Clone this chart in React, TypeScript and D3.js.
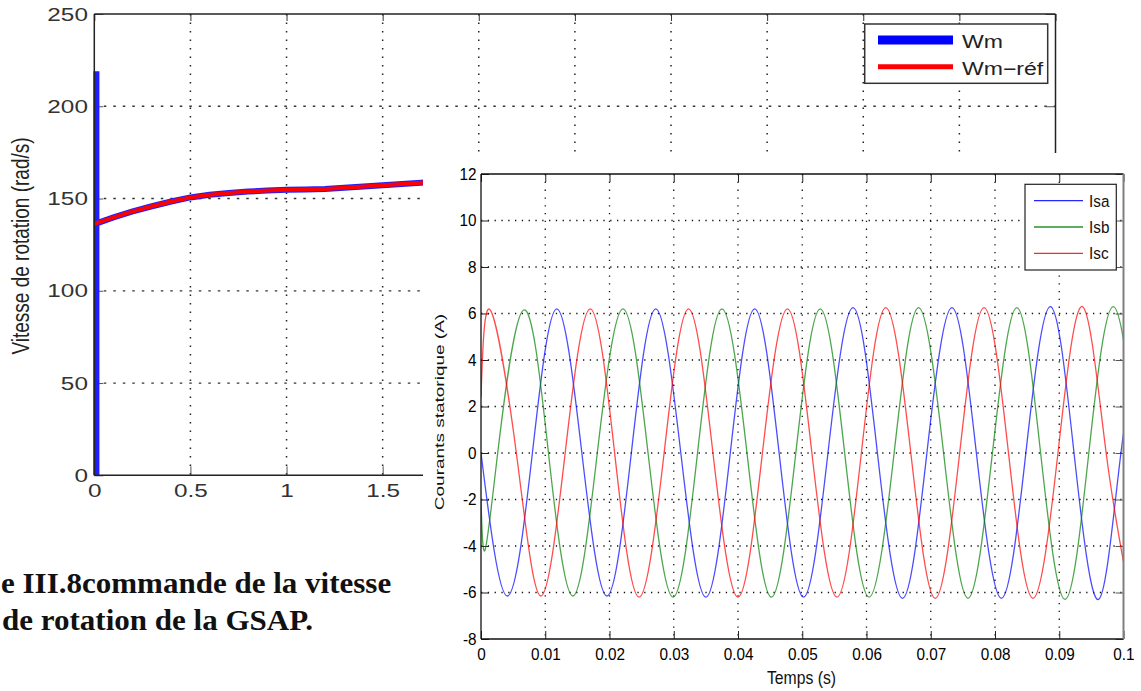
import React, { useEffect, useRef } from 'react';
import * as d3 from 'd3';

const width = 1141;
const height = 691;

// ---- vitesse de rotation (graphe du fond)
const speedXTicks = [0, 0.5, 1, 1.5, 2, 2.5, 3, 3.5, 4, 4.5, 5];
const speedXLabels = ['0', '0.5', '1', '1.5', '', '', '', '', '', '', '']; // le reste est caché sous l'autre image
const speedYTicks = [0, 50, 100, 150, 200, 250];
const refTime = [0, 0.1, 0.2, 0.3, 0.4, 0.5, 0.6, 0.7, 0.8, 0.9, 1.0, 1.1, 1.2, 1.3, 1.4, 1.5, 1.6, 1.7, 1.75];
const refSpeed = [136.3, 139.8, 143.0, 145.8, 148.4, 150.6, 152.0, 153.0, 153.8, 154.3, 154.7, 154.9, 155.1, 155.8, 156.5, 157.2, 157.9, 158.6, 158.9];
const wmTime = [0.011, 0.011, 0.011, 0.1, 0.2, 0.3, 0.4, 0.5, 0.6, 0.7, 0.8, 0.9, 1.0, 1.1, 1.2, 1.3, 1.4, 1.5, 1.6, 1.7, 1.75];
const wmSpeed = [0, 219, 136.5, 139.8, 143.0, 145.8, 148.4, 150.6, 152.0, 153.0, 153.8, 154.3, 154.7, 154.9, 155.1, 155.8, 156.5, 157.2, 157.9, 158.6, 158.9];

// ---- courants statoriques (graphe du dessus)
const curXTicks = [0, 0.01, 0.02, 0.03, 0.04, 0.05, 0.06, 0.07, 0.08, 0.09, 0.1];
const curXLabels = ['0', '0.01', '0.02', '0.03', '0.04', '0.05', '0.06', '0.07', '0.08', '0.09', '0.1'];
const curYTicks = [-8, -6, -4, -2, 0, 2, 4, 6, 8, 10, 12];
const curYLabels = ['-8', '-6', '-4', '-2', '0', '2', '4', '6', '8', '10', '12'];

// crêtes, creux et passages par zéro (le dernier point sort du cadre)
const isaTime = [0, 0.0041, 0.0080, 0.0118, 0.0157, 0.0196, 0.0234, 0.0272, 0.0311, 0.0350, 0.0388, 0.0426, 0.0464, 0.0502, 0.0540, 0.0579, 0.0617, 0.0656, 0.0694, 0.0733, 0.0771, 0.0810, 0.0848, 0.0886, 0.0923, 0.0961, 0.0996, 0.1034];
const isaVal = [0, -6.15, 0, 6.2, 0, -6.15, 0, 6.2, 0, -6.2, 0, 6.2, 0, -6.2, 0, 6.25, 0, -6.25, 0, 6.25, 0, -6.25, 0, 6.3, 0, -6.3, 0, 6.3];
const isbTime = [0, 0.0006, 0.0026, 0.00665, 0.0105, 0.0143, 0.0181, 0.0221, 0.0260, 0.0299, 0.0337, 0.0375, 0.0414, 0.0452, 0.0490, 0.0528, 0.0566, 0.0604, 0.0643, 0.0681, 0.0720, 0.0758, 0.0796, 0.0834, 0.0871, 0.0909, 0.0946, 0.0984, 0.1022];
const isbVal = [-2.0, -4.2, 0, 6.15, 0, -6.15, 0, 6.2, 0, -6.2, 0, 6.2, 0, -6.2, 0, 6.2, 0, -6.2, 0, 6.25, 0, -6.25, 0, 6.25, 0, -6.3, 0, 6.3, 0];
const iscTime = [0, 0.00145, 0.0055, 0.0093, 0.0131, 0.0170, 0.0208, 0.0246, 0.0285, 0.0323, 0.0361, 0.0400, 0.0438, 0.0477, 0.0515, 0.0554, 0.0592, 0.0630, 0.0669, 0.0707, 0.0745, 0.0783, 0.0821, 0.0859, 0.0898, 0.0936, 0.0973, 0.1011];
const iscVal = [2.4, 6.15, 0, -6.15, 0, 6.2, 0, -6.2, 0, 6.2, 0, -6.2, 0, 6.2, 0, -6.2, 0, 6.25, 0, -6.25, 0, 6.25, 0, -6.25, 0, 6.3, 0, -6.3];

const speedLegend = ['Wm', 'Wm\u2212réf'];
const curLegend = ['Isa', 'Isb', 'Isc'];
const curColors = ['#0000ff', '#008000', '#ff0000'];

const FONT = "'Liberation Sans', Arial, Helvetica, sans-serif";

const zip = (t: number[], v: number[]) => t.map((x, i) => [x, v[i]] as [number, number]);

export default function App() {
  const sLeft = useRef<SVGGElement>(null);
  const sBottom = useRef<SVGGElement>(null);
  const sTop = useRef<SVGGElement>(null);
  const sRight = useRef<SVGGElement>(null);
  const cLeft = useRef<SVGGElement>(null);
  const cBottom = useRef<SVGGElement>(null);
  const cTop = useRef<SVGGElement>(null);
  const cRight = useRef<SVGGElement>(null);

  const sx = d3.scaleLinear().domain([0, 5]).range([94.3, 1055.5]);
  const sy = d3.scaleLinear().domain([0, 250]).range([475.3, 14]);
  const cx = d3.scaleLinear().domain([0, 0.1]).range([481, 1123.5]);
  const cy = d3.scaleLinear().domain([-8, 12]).range([639, 174]);

  const sLine = d3.line<[number, number]>().x(d => sx(d[0])).y(d => sy(d[1]));
  const cLine = d3.line<[number, number]>().x(d => cx(d[0])).y(d => cy(d[1])).curve(d3.curveNatural);

  const currents = [zip(isaTime, isaVal), zip(isbTime, isbVal), zip(iscTime, iscVal)];

  useEffect(() => {
    const style = (g: any, size: number, sxf: number, fill: string, tick: string) => {
      g.select('.domain').remove();
      g.attr('font-family', null).attr('font-size', null);
      g.selectAll('line').attr('stroke', tick);
      g.selectAll('text')
        .attr('font-family', FONT)
        .attr('font-size', size)
        .attr('fill', fill)
        .attr('transform', `scale(${sxf},1)`);
    };
    const sLabel = (d: any) => speedXLabels[speedXTicks.indexOf(d)] ?? '';
    style(d3.select(sLeft.current).call(d3.axisLeft(sy).tickValues(speedYTicks).tickSize(-9).tickPadding(5).tickFormat(d => String(d))), 19, 1.28, '#333', '#555');
    style(d3.select(sBottom.current).call(d3.axisBottom(sx).tickValues(speedXTicks).tickSize(-9).tickPadding(8).tickFormat(sLabel)), 19, 1.28, '#333', '#555');
    style(d3.select(sTop.current).call(d3.axisTop(sx).tickValues(speedXTicks).tickSize(-7).tickFormat(() => '')), 19, 1, '#333', '#333');
    style(d3.select(sRight.current).call(d3.axisRight(sy).tickValues(speedYTicks).tickSize(-10).tickFormat(() => '')), 19, 1, '#333', '#555');

    const cxLabel = (d: any) => curXLabels[curXTicks.indexOf(d)] ?? '';
    const cyLabel = (d: any) => curYLabels[curYTicks.indexOf(d)] ?? '';
    style(d3.select(cLeft.current).call(d3.axisLeft(cy).tickValues(curYTicks).tickSize(-8).tickPadding(5).tickFormat(cyLabel)), 17, 0.9, '#000', '#222');
    style(d3.select(cBottom.current).call(d3.axisBottom(cx).tickValues(curXTicks).tickSize(-8).tickPadding(9).tickFormat(cxLabel)), 17, 0.9, '#000', '#222');
    style(d3.select(cTop.current).call(d3.axisTop(cx).tickValues(curXTicks).tickSize(-8).tickFormat(() => '')), 17, 1, '#000', '#222');
    style(d3.select(cRight.current).call(d3.axisRight(cy).tickValues(curYTicks).tickSize(-8).tickFormat(() => '')), 17, 1, '#000', '#555');
  }, []);

  const [s0, s1] = sx.range();
  const [sb, st] = sy.range();
  const [c0, c1] = cx.range();
  const [cb, ct] = cy.range();

  return (
    <svg width={width} height={height} style={{ display: 'block', position: 'absolute', left: 0, top: 0 }}>
      <defs>
        <clipPath id="curClip">
          <rect x={c0} y={ct} width={c1 - c0} height={cb - ct} />
        </clipPath>
      </defs>
      <rect x={0} y={0} width={width} height={height} fill="#fff" />

      {/* graphe du fond : vitesse */}
      <g>
        {speedXTicks.slice(1, -1).map(t => (
          <line key={'sv' + t} x1={sx(t)} x2={sx(t)} y1={st} y2={sb} stroke="#222" strokeWidth={1.5} strokeDasharray="1.5,7" />
        ))}
        {speedYTicks.slice(1, -1).map(v => (
          <line key={'sh' + v} x1={s0} x2={s1} y1={sy(v)} y2={sy(v)} stroke="#333" strokeWidth={1.3} strokeDasharray="2.5,7" />
        ))}
        <g ref={sLeft} transform={`translate(${s0},0)`} />
        <g ref={sBottom} transform={`translate(0,${sb})`} />
        <g ref={sTop} transform={`translate(0,${st})`} />
        <g ref={sRight} transform={`translate(${s1},0)`} />
        <path d={sLine(zip(wmTime, wmSpeed)) ?? ''} fill="none" stroke="#1f1fff" strokeWidth={6} />
        <path d={sLine(zip(refTime, refSpeed)) ?? ''} fill="none" stroke="#ff0000" strokeWidth={4} />
        <line x1={s0} x2={s1} y1={st} y2={st} stroke="#222" strokeWidth={1.5} />
        <line x1={s1} x2={s1} y1={st} y2={sb} stroke="#222" strokeWidth={1.5} />
        <line x1={s0} x2={s0} y1={st} y2={sb} stroke="#222" strokeWidth={1.5} />
        <line x1={s0} x2={s1} y1={sb} y2={sb} stroke="#222" strokeWidth={1.5} />
        <text transform="translate(29,246) scale(1.25,1) rotate(-90)" textAnchor="middle" fontFamily={FONT} fontSize={19} fill="#222">
          Vitesse de rotation (rad/s)
        </text>
        <rect x={864.7} y={24} width={183} height={59.3} fill="#fff" stroke="#333" strokeWidth={1.5} />
        <line x1={878} x2={953} y1={40} y2={40} stroke="#0000ff" strokeWidth={9} />
        <line x1={878} x2={953} y1={66.7} y2={66.7} stroke="#ff0000" strokeWidth={5} />
        {speedLegend.map((s, i) => (
          <text key={s} transform={`translate(962,${48.3 + i * 26.7}) scale(1.28,1)`} fontFamily={FONT} fontSize={18} fill="#222">
            {s}
          </text>
        ))}
      </g>

      {/* image des courants posée par-dessus */}
      <rect x={423} y={153} width={width - 423} height={height - 153} fill="#fff" />
      <g>
        {curXTicks.slice(1, -1).map(t => (
          <line key={'cv' + t} x1={cx(t)} x2={cx(t)} y1={ct} y2={cb} stroke="#111" strokeWidth={1.3} strokeDasharray="1.3,6.5" />
        ))}
        {curYTicks.slice(1, -1).map(v => (
          <line key={'ch' + v} x1={c0} x2={c1} y1={cy(v)} y2={cy(v)} stroke="#111" strokeWidth={1.3} strokeDasharray="1.3,5.5" />
        ))}
        <g ref={cLeft} transform={`translate(${c0},0)`} />
        <g ref={cBottom} transform={`translate(0,${cb})`} />
        <g ref={cTop} transform={`translate(0,${ct})`} />
        <g ref={cRight} transform={`translate(${c1},0)`} />
        <g clipPath="url(#curClip)">
          {currents.map((pts, i) => (
            <path key={i} d={cLine(pts) ?? ''} fill="none" stroke={curColors[i]} strokeWidth={1.3} strokeOpacity={0.7} />
          ))}
        </g>
        <line x1={c0} x2={c1} y1={ct} y2={ct} stroke="#111" strokeWidth={1.3} />
        <line x1={c0} x2={c0} y1={ct} y2={cb} stroke="#111" strokeWidth={1.3} />
        <line x1={c0} x2={c1} y1={cb} y2={cb} stroke="#111" strokeWidth={1.3} />
        <line x1={c1} x2={c1} y1={ct} y2={cb} stroke="#808080" strokeWidth={2} />
        <text transform="translate(444,412) scale(0.72,1) rotate(-90)" textAnchor="middle" fontFamily={FONT} fontSize={19} fill="#111">
          Courants statorique (A)
        </text>
        <text transform="translate(801.5,684) scale(0.9,1)" textAnchor="middle" fontFamily={FONT} fontSize={17.5} fill="#111">
          Temps (s)
        </text>
        <rect x={1025} y={184.3} width={91.3} height={85.7} fill="#fff" stroke="#222" strokeWidth={1.2} />
        {curLegend.map((s, i) => (
          <g key={s}>
            <line x1={1034} x2={1083} y1={200.7 + i * 26.3} y2={200.7 + i * 26.3} stroke={curColors[i]} strokeWidth={1.3} strokeOpacity={0.85} />
            <text transform={`translate(1089,${206.8 + i * 26.3}) scale(0.9,1)`} fontFamily={FONT} fontSize={17} fill="#111">
              {s}
            </text>
          </g>
        ))}
      </g>

      {/* légende de la figure, coupée à gauche */}
      <g fontFamily="'Liberation Serif', 'Times New Roman', serif" fontWeight="bold" fontSize={29} fill="#111">
        <text transform="translate(1,593.3) scale(1.07,1)">e III.8commande de la vitesse</text>
        <text transform="translate(2,629.5) scale(1.07,1)">de rotation de la GSAP.</text>
      </g>
    </svg>
  );
}
